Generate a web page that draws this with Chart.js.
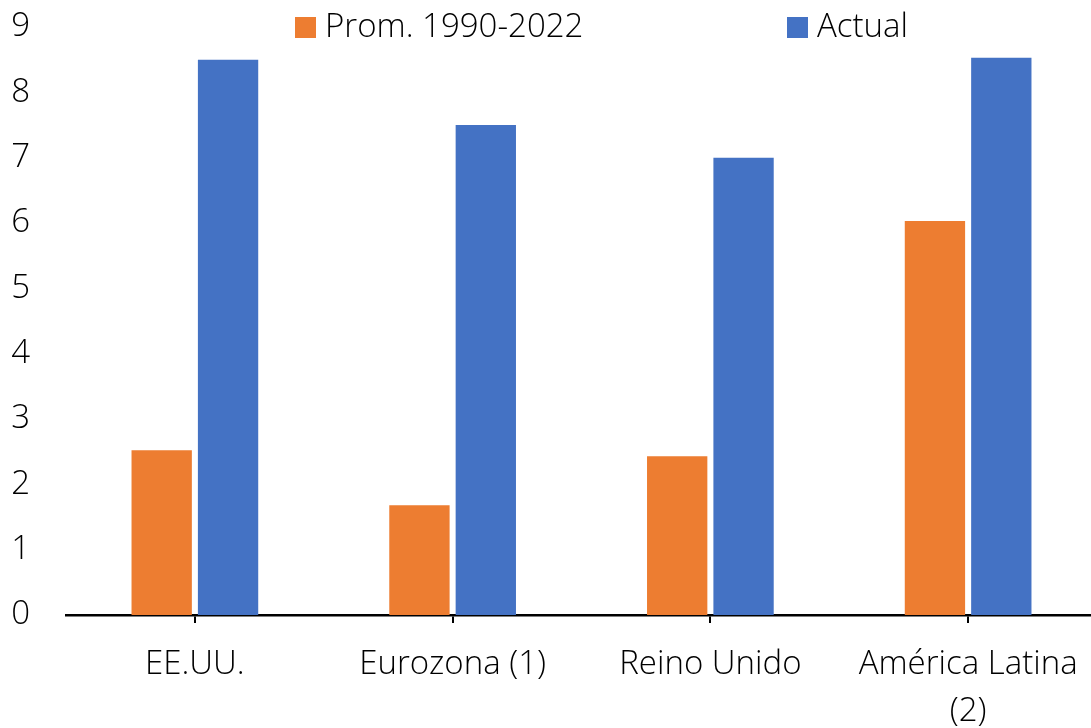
<!DOCTYPE html>
<html>
<head>
<meta charset="utf-8">
<script src="https://cdn.jsdelivr.net/npm/chart.js@4.4.0/dist/chart.umd.min.js"></script>
<style>
  html, body { margin: 0; padding: 0; background: #fff; overflow: hidden; }
  #wrap { width: 1097px; height: 728px; }
</style>
</head>
<body>
<div id="wrap"><canvas id="chart"></canvas></div>
<script>
const categories = ["EE.UU.", "Eurozona (1)", "Reino Unido", ["América Latina", "(2)"]];
const promedio = [2.52, 1.68, 2.43, 6.03];
const actual = [8.5, 7.5, 7.0, 8.53];
const yTicks = [0, 1, 2, 3, 4, 5, 6, 7, 8, 9];

const fontFamily = "'Open Sans', 'Noto Sans', sans-serif";

// leyenda dibujada dentro del área del gráfico, como en el original
const legendInside = {
    id: "legendInside",
    afterDraw(chart) {
        const ctx = chart.ctx;
        const items = [
            { text: chart.data.datasets[0].label, color: chart.data.datasets[0].backgroundColor, x: 295 },
            { text: chart.data.datasets[1].label, color: chart.data.datasets[1].backgroundColor, x: 787 },
        ];
        ctx.save();
        ctx.font = "300 33px " + fontFamily;
        ctx.textBaseline = "middle";
        items.forEach((it) => {
            ctx.fillStyle = it.color;
            ctx.fillRect(it.x, 17, 21, 21);
            ctx.fillStyle = "#000";
            ctx.fillText(it.text, it.x + 30, 28);
        });
        ctx.restore();
    },
};

new Chart(document.getElementById("chart"), {
    type: "bar",
    data: {
        labels: categories,
        datasets: [
            {
                label: "Prom. 1990-2022",
                backgroundColor: "#ED7D31",
                borderWidth: 0,
                data: promedio,
            },
            {
                label: "Actual",
                backgroundColor: "#4472C4",
                borderWidth: 0,
                data: actual,
            },
        ],
    },
    options: {
        responsive: true,
        maintainAspectRatio: false,
        animation: false,
        layout: { padding: { top: 27, right: 0, left: 0, bottom: 0 } },
        datasets: {
            bar: { categoryPercentage: 0.515, barPercentage: 0.909 },
        },
        scales: {
            x: {
                offset: true,
                grid: {
                    offset: false,
                    drawOnChartArea: false,
                    drawTicks: true,
                    tickLength: 8,
                    color: "#000",
                    lineWidth: 2,
                },
                border: { display: true, color: "#000", width: 2.5 },
                ticks: {
                    color: "#000",
                    padding: 18,
                    maxRotation: 0,
                    autoSkip: false,
                    font: { family: fontFamily, size: 33, weight: 300, lineHeight: 1.42 },
                },
                afterFit(scale) {
                    scale.height = 113;
                    scale.paddingLeft = 0;
                    scale.paddingRight = 0;
                },
            },
            y: {
                min: 0,
                max: 9,
                afterBuildTicks(scale) {
                    scale.ticks = yTicks.map((v) => ({ value: v }));
                },
                grid: { display: false, drawTicks: false },
                border: { display: false },
                ticks: {
                    color: "#000",
                    padding: 36,
                    font: { family: fontFamily, size: 33, weight: 300 },
                },
                afterFit(scale) {
                    scale.width = 66;
                    scale.paddingTop = 0;
                    scale.paddingBottom = 0;
                },
            },
        },
        plugins: {
            legend: { display: false },
            tooltip: { enabled: false },
        },
    },
    plugins: [legendInside],
});
</script>
</body>
</html>
